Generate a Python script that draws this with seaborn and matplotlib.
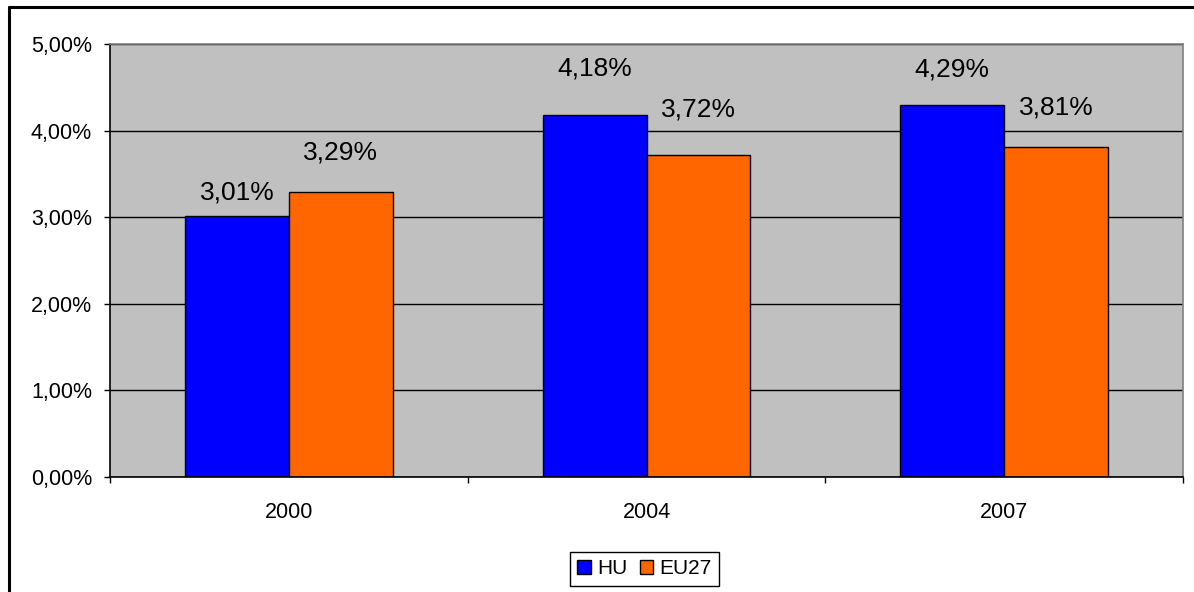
import pandas as pd
import numpy as np
import matplotlib.pyplot as plt
import seaborn as sns
from matplotlib.patches import Patch
from matplotlib.lines import Line2D

sns.set_style("white")
plt.rcParams["font.family"] = ["Liberation Sans", "DejaVu Sans"]
plt.rcParams["text.color"] = "black"
plt.rcParams["xtick.color"] = "black"
plt.rcParams["ytick.color"] = "black"
plt.rcParams["axes.labelcolor"] = "black"

# data
years = ["2000", "2004", "2007"]
hu = [3.01, 4.18, 4.29]
eu27 = [3.29, 3.72, 3.81]
series = ["HU", "EU27"]
colors = ["#0000FF", "#FF6600"]
# label offset above bar top (pixels), labels were nudged by hand in the original
label_off = {"HU": [24, 47, 36], "EU27": [40, 45, 40]}

df = pd.DataFrame({
    "year": years * 2,
    "value": hu + eu27,
    "series": ["HU"] * 3 + ["EU27"] * 3,
})

fig = plt.figure(figsize=(11.94, 5.92), dpi=100)
ax = fig.add_axes([110 / 1194, 1 - 477 / 592, (1183 - 110) / 1194, (477 - 44) / 592])

sns.barplot(data=df, x="year", y="value", hue="series", hue_order=series,
            palette=colors, width=0.58, gap=0, edgecolor="black", linewidth=1,
            saturation=1, ax=ax)

ax.set_facecolor("#C0C0C0")
ax.set_ylim(0, 5)
ax.set_xlim(-0.5, 2.5)
ax.set_axisbelow(True)
ax.yaxis.grid(True, color="black", linewidth=1)
ax.set_yticks(np.arange(0, 5.01, 1))
ax.set_yticklabels([f"{v:.2f}%".replace(".", ",") for v in np.arange(0, 5.01, 1)], fontsize=15.5)
ax.tick_params(axis="y", direction="out", length=4.5, width=1, pad=8.5, left=True)

ax.set_xticks([-0.5, 0.5, 1.5, 2.5])
ax.set_xticklabels([])
ax.set_xticks([0, 1, 2], minor=True)
ax.set_xticklabels(years, minor=True, fontsize=15.5)
ax.tick_params(axis="x", which="major", direction="out", length=4.5, width=1, bottom=True)
ax.tick_params(axis="x", which="minor", length=0, pad=18)
ax.set_xlabel("")
ax.set_ylabel("")

for s in ["left", "bottom"]:
    ax.spines[s].set_color("black")
    ax.spines[s].set_linewidth(1.2)
for s in ["top", "right"]:
    ax.spines[s].set_color("#808080")
    ax.spines[s].set_linewidth(1.2)

# value labels
for cont, name in zip(ax.containers, series):
    for bar, off in zip(cont, label_off[name]):
        v = bar.get_height()
        ax.annotate(f"{v:.2f}%".replace(".", ","),
                    (bar.get_x() + bar.get_width() / 2, v),
                    xytext=(0, off * 0.72), textcoords="offset points",
                    ha="center", va="center", fontsize=19, color="black")

# legend
if ax.get_legend() is not None:
    ax.get_legend().remove()
handles = [Patch(facecolor=c, edgecolor="black", linewidth=1) for c in colors]
fig.legend(handles, series, loc="center", bbox_to_anchor=(644.5 / 1194, 1 - 569 / 592),
           ncol=2, fontsize=15, frameon=True, fancybox=False, edgecolor="black",
           framealpha=1, handlelength=0.65, handleheight=0.65, handletextpad=0.3,
           columnspacing=0.6, borderpad=0.35, borderaxespad=0)

# outer chart frame (only left and top visible in the crop)
fig.add_artist(Line2D([9 / 1194, 9 / 1194], [0, 1 - 7 / 592], transform=fig.transFigure,
                      color="black", linewidth=2.2))
fig.add_artist(Line2D([9 / 1194, 1], [1 - 7 / 592, 1 - 7 / 592], transform=fig.transFigure,
                      color="black", linewidth=2.2))

plt.savefig("out.png", dpi=100)
